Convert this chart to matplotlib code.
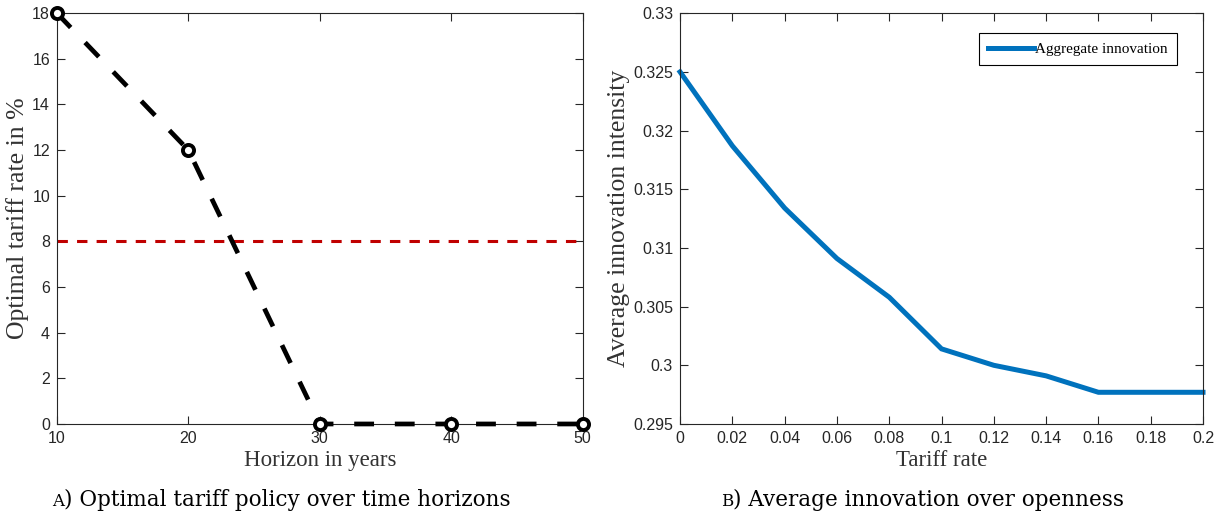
import matplotlib
matplotlib.use("Agg")
import matplotlib.pyplot as plt

# Data
horizon = [10, 20, 30, 40, 50]
opt_tariff = [18, 12, 0, 0, 0]
reference_tariff = 8

tariff_rate = [0, 0.02, 0.04, 0.06, 0.08, 0.10, 0.12, 0.14, 0.16, 0.18, 0.20]
innovation = [0.3250, 0.3187, 0.3134, 0.3091, 0.3058, 0.3014, 0.3000, 0.2991, 0.2977, 0.2977, 0.2977]

left_xticks = [10, 20, 30, 40, 50]
left_yticks = [0, 2, 4, 6, 8, 10, 12, 14, 16, 18]
right_xticks = [0, 0.02, 0.04, 0.06, 0.08, 0.1, 0.12, 0.14, 0.16, 0.18, 0.2]
right_xlabels = ["0", "0.02", "0.04", "0.06", "0.08", "0.1", "0.12", "0.14", "0.16", "0.18", "0.2"]
right_yticks = [0.295, 0.3, 0.305, 0.31, 0.315, 0.32, 0.325, 0.33]
right_ylabels = ["0.295", "0.3", "0.305", "0.31", "0.315", "0.32", "0.325", "0.33"]

tick_font = "Liberation Sans"
label_font = "Liberation Serif"
cap_font = "DejaVu Serif"

fig = plt.figure(figsize=(12.17, 5.18), dpi=100)
ax1 = fig.add_axes([0.0468, 0.1815, 0.432, 0.793])
ax2 = fig.add_axes([0.5588, 0.1815, 0.4297, 0.793])

axcol = "#262626"
for ax in (ax1, ax2):
    for s in ax.spines.values():
        s.set_color(axcol)
        s.set_linewidth(0.8)
    ax.tick_params(direction="in", top=True, right=True, length=6, width=0.8,
                   colors=axcol, labelsize=11.5, pad=5)

# Left panel
ax1.axhline(reference_tariff, color="#C00000", lw=2.2, ls=(0, (3.4, 3.0)), zorder=2)
ax1.plot(horizon, opt_tariff, color="black", lw=3.4, ls=(0, (4.2, 4.4)),
         marker="o", ms=8, mfc="white", mec="black", mew=2.8, zorder=3, clip_on=False)
ax1.set_xlim(10, 50)
ax1.set_ylim(0, 18)
ax1.set_xticks(left_xticks)
ax1.set_yticks(left_yticks)
ax1.set_xticklabels([str(v) for v in left_xticks], fontfamily=tick_font)
ax1.set_yticklabels([str(v) for v in left_yticks], fontfamily=tick_font)
ax1.set_xlabel("Horizon in years", fontfamily=label_font, fontsize=16.5, labelpad=3, color="#333333")
ax1.set_ylabel("Optimal tariff rate in %", fontfamily=label_font, fontsize=18.5, labelpad=2, color="#333333")

# Right panel
ax2.plot(tariff_rate, innovation, color="#0072BD", lw=3.6, label="Aggregate innovation",
         solid_joinstyle="miter", clip_on=False)
ax2.set_xlim(0, 0.2)
ax2.set_ylim(0.295, 0.33)
ax2.set_xticks(right_xticks)
ax2.set_xticklabels(right_xlabels, fontfamily=tick_font)
ax2.set_yticks(right_yticks)
ax2.set_yticklabels(right_ylabels, fontfamily=tick_font)
ax2.set_xlabel("Tariff rate", fontfamily=label_font, fontsize=16.5, labelpad=3, color="#333333")
ax2.set_ylabel("Average innovation intensity", fontfamily=label_font, fontsize=18.5, labelpad=2, color="#333333")
leg = ax2.legend(loc="upper right", bbox_to_anchor=(1 - 26 / 523, 1 - 20 / 411),
                 prop={"family": label_font, "size": 11},
                 fancybox=False, framealpha=1, edgecolor="black", handlelength=3.0,
                 handletextpad=0.1, borderpad=0.6, borderaxespad=0.0)
leg.get_frame().set_linewidth(0.8)

# Captions
def caption(x, y, letter, rest):
    t = fig.text(x, y, letter, fontsize=12, fontfamily=cap_font, va="baseline", ha="left")
    fig.canvas.draw()
    bb = t.get_window_extent()
    x2 = bb.x1 / fig.bbox.width
    fig.text(x2, y, ") " + rest, fontsize=15.5, fontfamily=cap_font, va="baseline", ha="left")

caption(52 / 1217, 1 - 506 / 518, "A", "Optimal tariff policy over time horizons")
caption(721 / 1217, 1 - 506 / 518, "B", "Average innovation over openness")

fig.savefig("out.png", dpi=100)
